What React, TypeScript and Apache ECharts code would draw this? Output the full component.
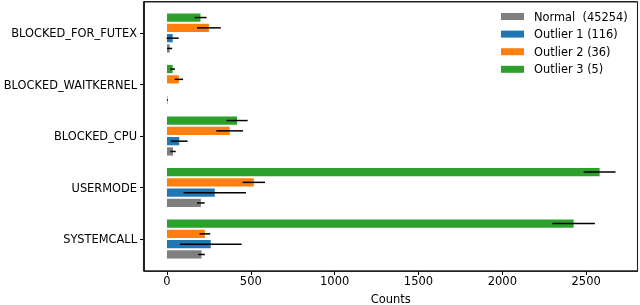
import React, { useEffect, useRef } from "react";
import * as echarts from "echarts";

const categories = ["SYSTEMCALL", "USERMODE", "BLOCKED_CPU", "BLOCKED_WAITKERNEL", "BLOCKED_FOR_FUTEX"];
const seriesNames = ["Normal  (45254)", "Outlier 1 (116)", "Outlier 2 (36)", "Outlier 3 (5)"];
const seriesColors = ["#7f7f7f", "#1f77b4", "#ff7f0e", "#2ca02c"];
const normalValues = [206, 202, 36, 3, 16];
const normalErrors = [20, 23, 16, 3, 15];
const outlier1Values = [261, 285, 73, 0, 34];
const outlier1Errors = [184, 186, 50, 0, 36];
const outlier2Values = [226, 518, 374, 71, 250];
const outlier2Errors = [32, 67, 80, 25, 71];
const outlier3Values = [2425, 2580, 418, 34, 200];
const outlier3Errors = [127, 95, 63, 14, 36];
const xTicks = [0, 500, 1000, 1500, 2000, 2500];

const allValues = [normalValues, outlier1Values, outlier2Values, outlier3Values];
const allErrors = [normalErrors, outlier1Errors, outlier2Errors, outlier3Errors];

const BAR_PITCH = 0.2;
const BAR_HEIGHT = 0.16;
const FONT = "DejaVu Sans";
const X_MIN = -137;
const X_MAX = 2806;
const Y_MIN = -0.621;
const Y_MAX = 4.602;

export default function App() {
  const ref = useRef<HTMLDivElement>(null);
  useEffect(() => {
    if (!ref.current) return;
    const chart = echarts.init(ref.current, null, { renderer: "svg" });
    const series = seriesNames.map((name, k) => {
      const offset = (k - 1.5) * BAR_PITCH;
      return {
        type: "custom",
        name,
        itemStyle: { color: seriesColors[k] },
        encode: { x: 0, y: 1 },
        data: categories.map((_, i) => [allValues[k][i], i, allErrors[k][i]]),
        renderItem: (params: any, api: any) => {
          const val = api.value(0);
          const cat = api.value(1);
          const err = api.value(2);
          const y = cat + offset;
          const p0 = api.coord([0, y + BAR_HEIGHT / 2]);
          const p1 = api.coord([val, y - BAR_HEIGHT / 2]);
          const c = api.coord([val, y]);
          const e0 = api.coord([val - err, y]);
          const e1 = api.coord([val + err, y]);
          const children: any[] = [
            {
              type: "rect",
              shape: { x: p0[0], y: p0[1], width: p1[0] - p0[0], height: p1[1] - p0[1] },
              style: { fill: seriesColors[k] },
            },
          ];
          if (err > 0) {
            children.push({
              type: "line",
              shape: { x1: e0[0], y1: c[1], x2: e1[0], y2: c[1] },
              style: { stroke: "#000", lineWidth: 1.5 },
            });
          }
          return { type: "group", children };
        },
      };
    });
    const L = 143.5;
    const T = 1.5;
    const R = 637.5;
    const B = 271;
    const frameStyle = { stroke: "#222", lineWidth: 1.1 };
    chart.setOption({
      animation: false,
      textStyle: { fontFamily: FONT },
      grid: {
        left: 144,
        right: 2.5,
        top: 2,
        bottom: 34,
        outerBoundsMode: "none",
        containLabel: false,
        show: true,
        borderColor: "#222",
        borderWidth: 1,
        backgroundColor: "rgba(255,255,255,0)",
      },
      graphic: [
        { type: "line", silent: true, z: 100, shape: { x1: L, y1: T, x2: R, y2: T }, style: frameStyle },
        { type: "line", silent: true, z: 100, shape: { x1: L, y1: B, x2: R, y2: B }, style: frameStyle },
        { type: "line", silent: true, z: 100, shape: { x1: L, y1: T, x2: L, y2: B }, style: frameStyle },
        { type: "line", silent: true, z: 100, shape: { x1: R, y1: T, x2: R, y2: B }, style: frameStyle },
      ],
      legend: {
        orient: "vertical",
        left: 496,
        top: 5,
        data: seriesNames.map((n) => ({ name: n, icon: "rect" })),
        itemWidth: 23,
        itemHeight: 7,
        itemGap: 4.6,
        textStyle: { fontFamily: FONT, fontSize: 11.4, color: "#000", lineHeight: 13, padding: [0, 0, 0, 5] },
      },
      xAxis: {
        type: "value",
        min: X_MIN,
        max: X_MAX,
        name: "Counts",
        nameLocation: "middle",
        nameGap: 22,
        nameTextStyle: { fontFamily: FONT, fontSize: 11.5, color: "#000" },
        axisLine: { show: true, onZero: false, lineStyle: { color: "#222", width: 1 } },
        splitLine: { show: false },
        axisTick: { show: true, length: 4, lineStyle: { color: "#000" }, customValues: xTicks },
        axisLabel: {
          fontFamily: FONT,
          fontSize: 11.5,
          color: "#000",
          margin: 4,
          customValues: xTicks,
          formatter: (v: number) => String(v),
        },
      },
      yAxis: {
        type: "value",
        min: Y_MIN,
        max: Y_MAX,
        axisLine: { show: true, onZero: false, lineStyle: { color: "#222", width: 1 } },
        splitLine: { show: false },
        axisTick: { show: true, length: 4, lineStyle: { color: "#000" }, customValues: [0, 1, 2, 3, 4] },
        axisLabel: {
          fontFamily: FONT,
          fontSize: 11.4,
          color: "#000",
          margin: 7,
          customValues: [0, 1, 2, 3, 4],
          formatter: (v: number) => categories[Math.round(v)] ?? "",
        },
      },
      series,
    });
    return () => chart.dispose();
  }, []);
  return <div ref={ref} style={{ position: "fixed", left: 0, top: 0, width: 640, height: 305 }} />;
}
